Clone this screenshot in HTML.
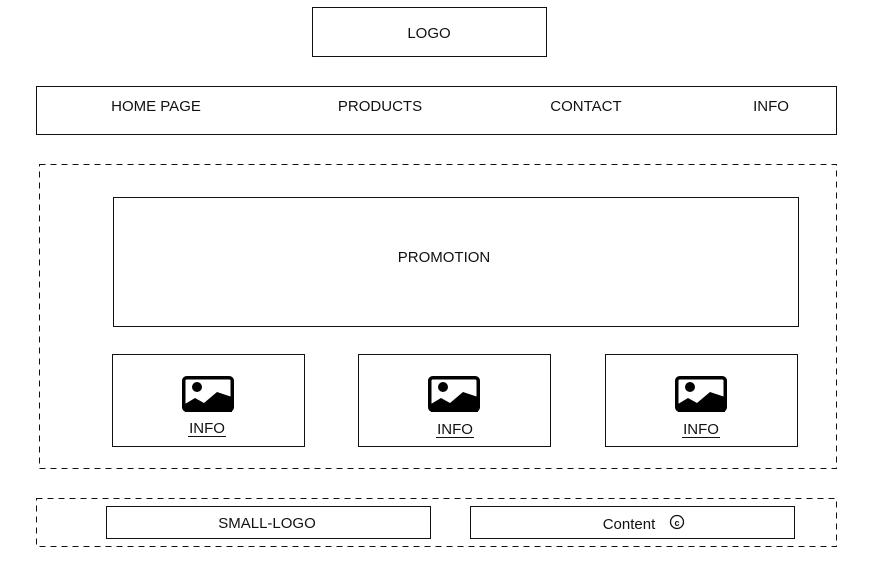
<!DOCTYPE html>
<html><head><style>
html,body{margin:0;padding:0;background:#fff;}
svg{display:block;}
text{font-family:"Liberation Sans",sans-serif;font-size:15px;fill:#111;}
</style></head><body>
<svg width="885" height="575" viewBox="0 0 885 575" xmlns="http://www.w3.org/2000/svg">
<g fill="none" stroke="#111" stroke-width="1">
<rect x="312.5" y="7.5" width="234" height="49"/>
<rect x="36.5" y="86.5" width="800" height="48"/>
<rect x="39.5" y="164.5" width="797" height="304" stroke-dasharray="6,5"/>
<rect x="113.5" y="197.5" width="685" height="129"/>
<rect x="112.5" y="354.5" width="192" height="92"/>
<rect x="358.5" y="354.5" width="192" height="92"/>
<rect x="605.5" y="354.5" width="192" height="92"/>
<rect x="36.5" y="498.5" width="800" height="48" stroke-dasharray="6,5"/>
<rect x="106.5" y="506.5" width="324" height="32"/>
<rect x="470.5" y="506.5" width="324" height="32"/>
</g>
<text x="429" y="38" text-anchor="middle">LOGO</text>
<text x="156" y="111" text-anchor="middle">HOME PAGE</text>
<text x="380" y="111" text-anchor="middle">PRODUCTS</text>
<text x="586" y="111" text-anchor="middle">CONTACT</text>
<text x="771" y="111" text-anchor="middle">INFO</text>
<text x="444" y="262" text-anchor="middle">PROMOTION</text>
<text x="267" y="528" text-anchor="middle">SMALL-LOGO</text>
<text x="629" y="529" text-anchor="middle">Content</text>
<circle cx="677" cy="522" r="6.5" fill="none" stroke="#111" stroke-width="1.3"/>
<text x="677" y="526" text-anchor="middle" style="font-size:9px;font-weight:bold">c</text>
<defs>
<g id="ic">
<rect x="1.75" y="1.75" width="48.5" height="32.5" rx="3" fill="none" stroke="#000" stroke-width="3.5"/>
<circle cx="15" cy="11" r="5" fill="#000"/>
<path d="M3,28 L13,22 L22,27 L35,16 L50,21 L50,36 L3,36 Z" fill="#000"/>
</g>
</defs>
<use href="#ic" x="182" y="376"/>
<use href="#ic" x="428" y="376"/>
<use href="#ic" x="675" y="376"/>
<text x="207" y="433" text-anchor="middle">INFO</text>
<text x="455" y="434" text-anchor="middle">INFO</text>
<text x="701" y="434" text-anchor="middle">INFO</text>
<g stroke="#111" stroke-width="1">
<line x1="188" y1="436.5" x2="226" y2="436.5"/>
<line x1="436" y1="437.5" x2="474" y2="437.5"/>
<line x1="682" y1="437.5" x2="720" y2="437.5"/>
</g>
</svg>
</body></html>
